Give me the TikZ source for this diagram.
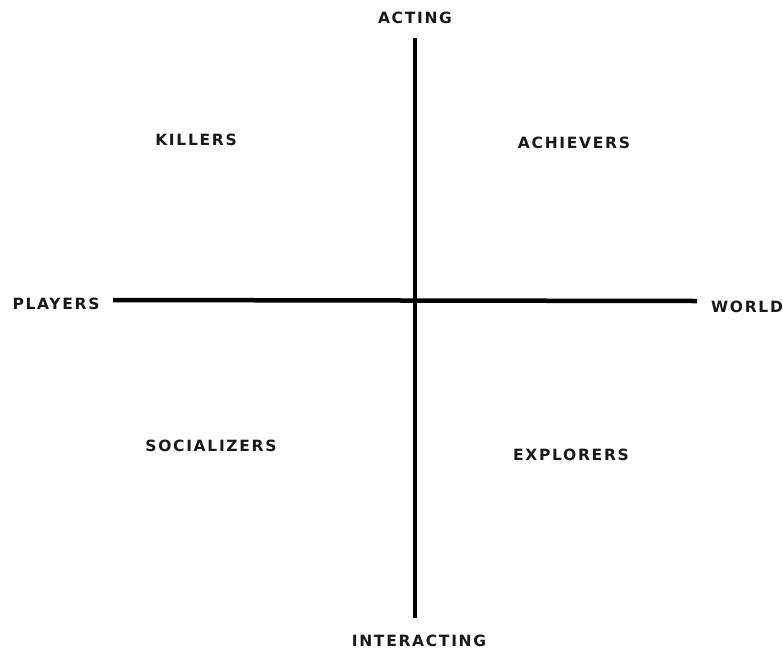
\documentclass[tikz,border=0pt]{standalone}
\usepackage{fontspec}
\setmainfont{DejaVu Sans}
\newfontfamily\lblfont{DejaVu Sans Bold}[LetterSpace=11]
\begin{document}
\begin{tikzpicture}[x=1pt,y=-1pt,
  axis/.style={line width=4.5pt},
  lbl/.style={font=\lblfont\fontsize{15.5}{18}\selectfont, inner sep=0pt, text=black!90}]
\useasboundingbox (0,0) rectangle (783,651);
\node[lbl] (acting) at (415,18) {ACTING};
\node[lbl] (interacting) at (419,641) {INTERACTING};
\node[lbl] (players) at (56,304) {PLAYERS};
\node[lbl] (world) at (747,307) {WORLD};
\node[lbl] (killers) at (196,140) {KILLERS};
\node[lbl] (achievers) at (574,143) {ACHIEVERS};
\node[lbl] (socializers) at (211,446) {SOCIALIZERS};
\node[lbl] (explorers) at (571,455) {EXPLORERS};
\coordinate (top) at (415,38);
\coordinate (bot) at (415,618);
\coordinate (left) at (113,300);
\coordinate (right) at (697,301);
\draw[axis] (top) -- (bot);
\draw[axis] (left) -- (right);
\end{tikzpicture}
\end{document}
